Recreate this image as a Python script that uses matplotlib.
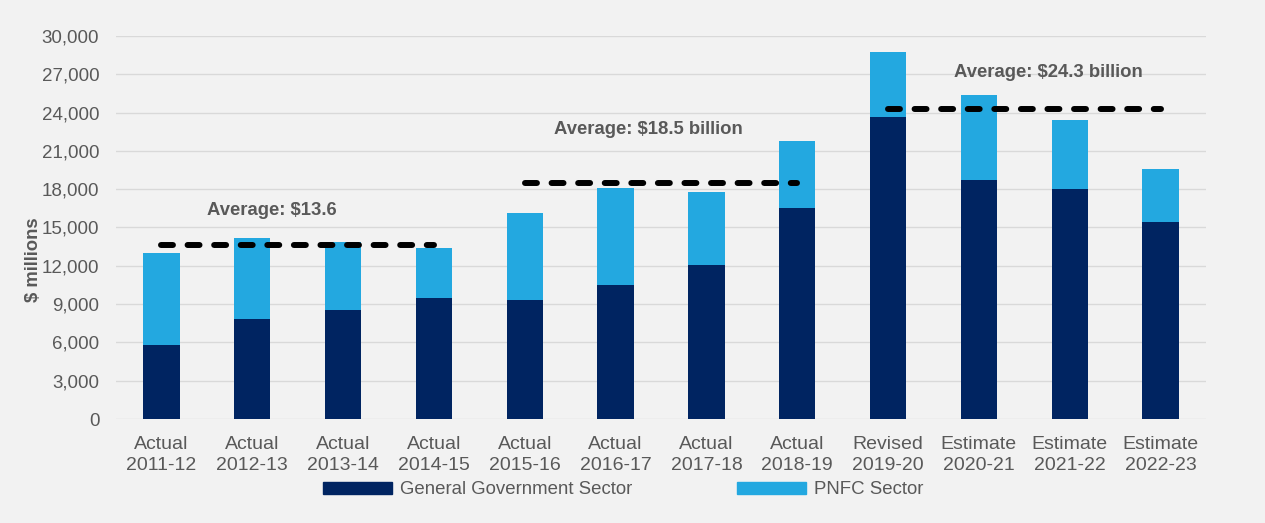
import matplotlib
matplotlib.use("Agg")
import matplotlib.pyplot as plt
from matplotlib.patches import Patch
import numpy as np

plt.rcParams['font.family'] = ['Liberation Sans', 'DejaVu Sans']

categories = ["Actual\n2011-12", "Actual\n2012-13", "Actual\n2013-14", "Actual\n2014-15",
              "Actual\n2015-16", "Actual\n2016-17", "Actual\n2017-18", "Actual\n2018-19",
              "Revised\n2019-20", "Estimate\n2020-21", "Estimate\n2021-22", "Estimate\n2022-23"]
general_government = [5800, 7850, 8500, 9450, 9300, 10500, 12050, 16550, 23650, 18750, 18050, 15400]
totals = [13000, 14150, 13850, 13400, 16100, 18100, 17800, 21800, 28750, 25350, 23450, 19600]
pnfc = [t - g for t, g in zip(totals, general_government)]

avg_values = [13600, 18500, 24300]
avg_ranges = [(0, 3), (4, 7), (8, 11)]
avg_labels = ["Average: $13.6", "Average: $18.5 billion", "Average: $24.3 billion"]
avg_label_pos = [(1.22, 16370), (5.36, 22640), (9.76, 27130)]

yticks = [0, 3000, 6000, 9000, 12000, 15000, 18000, 21000, 24000, 27000, 30000]

navy = "#002461"
light = "#23a8e0"
bg = "#f2f2f2"
txt = "#595959"

fig = plt.figure(figsize=(12.65, 5.23), dpi=100, facecolor=bg)
ax = fig.add_axes([116/1265, 1-419/523, (1206-116)/1265, (419-36)/523])
ax.set_facecolor(bg)

x = np.arange(len(categories))
ax.bar(x, general_government, width=0.4, color=navy, zorder=2, label="General Government Sector")
ax.bar(x, pnfc, width=0.4, bottom=general_government, color=light, zorder=2, label="PNFC Sector")

for v, (a, b) in zip(avg_values, avg_ranges):
    ax.plot([a, b], [v, v], color="black", lw=4.3, linestyle=(0, (2, 2.45)),
            dash_capstyle='round', zorder=3)

for lab, (px, py) in zip(avg_labels, avg_label_pos):
    ax.text(px, py, lab, ha='center', va='center', fontsize=13.3, fontweight='bold', color=txt)

ax.set_xlim(-0.5, 11.5)
ax.set_ylim(0, 30000)
ax.set_yticks(yticks)
ax.set_yticklabels([f"{v:,}" for v in yticks], fontsize=13.5)
ax.set_xticks(x)
ax.set_xticklabels(categories, fontsize=14, linespacing=1.3)
ax.tick_params(axis='both', length=0, labelcolor=txt)
ax.tick_params(axis='y', pad=12)
ax.tick_params(axis='x', pad=12)
ax.grid(axis='y', color="#d9d9d9", lw=1, zorder=0)
ax.set_axisbelow(True)
for s in ax.spines.values():
    s.set_visible(False)

ax.set_ylabel("$ millions", fontsize=13.3, fontweight='bold', color=txt)
ax.yaxis.set_label_coords(-0.068, 0.415)

handles = [Patch(color=navy, label="General Government Sector"),
           Patch(color=light, label="PNFC Sector")]
fig.legend(handles=handles, loc='center left', bbox_to_anchor=(323/1265, 1-490/523),
           ncol=2, frameon=False, fontsize=13.4, handlelength=3.7, handleheight=0.55,
           handletextpad=0.45, columnspacing=5.6, borderpad=0, borderaxespad=0,
           labelcolor=txt)

fig.savefig("out.png", dpi=100, facecolor=bg)
